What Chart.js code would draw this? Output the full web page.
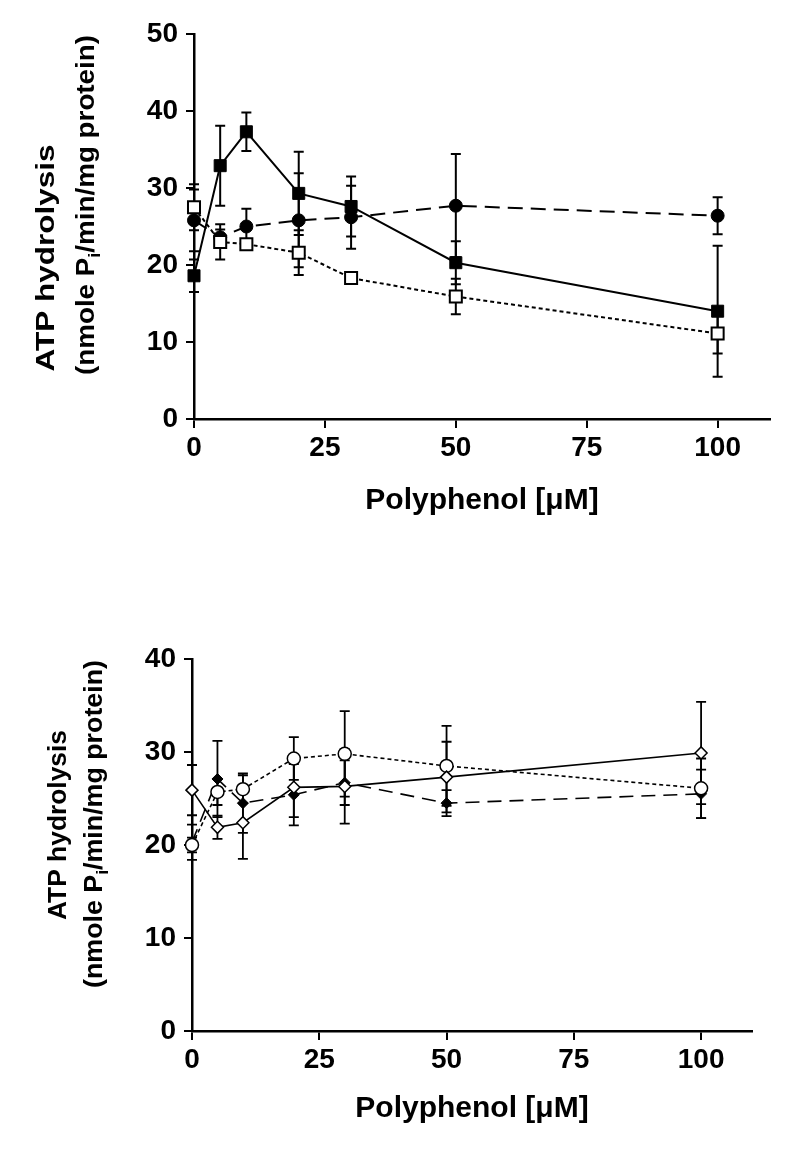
<!DOCTYPE html>
<html lang="en">
<head>
<meta charset="UTF-8">
<title>ATP hydrolysis vs polyphenol</title>
<script src="https://cdn.jsdelivr.net/npm/chart.js@4"></script>
<style>
  body { margin: 0; background: #fff; }
  .panel { position: absolute; left: 0; width: 794px; }
  #top { top: 0; height: 580px; }
  #bottom { top: 580px; height: 577px; }
</style>
</head>
<body>
<div class="panel" id="top"><canvas id="chartTop"></canvas></div>
<div class="panel" id="bottom"><canvas id="chartBottom"></canvas></div>
<script>
// polyphenol concentrations (uM)
const doses = [0, 5, 10, 20, 30, 50, 100];
const xTicks = [0, 25, 50, 75, 100];
const yTicksTop = [0, 10, 20, 30, 40, 50];
const yTicksBottom = [0, 10, 20, 30, 40];

// top panel
const filledSquare    = [18.6, 32.9, 37.3, 29.3, 27.6, 20.3, 14.0];
const filledSquareErr = [2.1, 5.2, 2.5, 5.4, 3.9, 2.8, 8.5];
const filledCircle    = [25.8, 23.6, 25.0, 25.8, 26.2, 27.7, 26.4];
const filledCircleErr = [4.0, 1.0, 2.3, 6.1, 4.1, 6.7, 2.4];
const openSquare      = [27.5, 23.0, 22.7, 21.6, 18.3, 15.9, 11.1];
const openSquareErr   = [3.0, 2.3, 0.5, 2.9, 0.5, 2.3, 2.6];

// bottom panel
const openDiamond      = [25.9, 21.9, 22.4, 26.2, 26.3, 27.3, 29.9];
const openDiamondErr   = [2.7, 1.25, 3.9, 3.2, 4.0, 3.8, 5.5];
const openCircle       = [20.0, 25.7, 26.0, 29.3, 29.8, 28.5, 26.1];
const openCircleErr    = [0.8, 1.4, 1.5, 2.3, 4.6, 4.3, 3.2];
const filledDiamond    = [20.3, 27.1, 24.5, 25.4, 26.7, 24.5, 25.5];
const filledDiamondErr = [1.9, 4.1, 3.2, 3.3, 2.4, 1.4, 2.6];

const sans = '"Liberation Sans", Arial, sans-serif';

function pts(vals) {
  return doses.map((d, i) => ({ x: d, y: vals[i] }));
}

// vertical error bars with caps, drawn under the lines and markers
const errorBars = {
  id: 'errorBars',
  beforeDatasetsDraw(chart) {
    const { ctx, scales: { x, y } } = chart;
    ctx.save();
    ctx.strokeStyle = '#000';
    chart.data.datasets.forEach(ds => {
      if (!ds.errors) return;
      ctx.lineWidth = ds.errWidth || 2;
      ds.data.forEach((p, i) => {
        const e = ds.errors[i];
        const px = x.getPixelForValue(p.x);
        const top = y.getPixelForValue(p.y + e);
        const bot = y.getPixelForValue(p.y - e);
        const cap = 5;
        ctx.beginPath();
        ctx.moveTo(px, top); ctx.lineTo(px, bot);
        ctx.moveTo(px - cap, top); ctx.lineTo(px + cap, top);
        ctx.moveTo(px - cap, bot); ctx.lineTo(px + cap, bot);
        ctx.stroke();
      });
    });
    ctx.restore();
  }
};

// rotated two-line y title with the subscript i
const yTitle = {
  id: 'yTitle',
  afterDraw(chart, args, opts) {
    const ctx = chart.ctx;
    const big = `bold ${opts.size}px ${sans}`;
    const small = `bold ${Math.round(opts.size * 0.65)}px ${sans}`;
    opts.lines.forEach(line => {
      ctx.save();
      ctx.translate(line.x, line.y);
      ctx.rotate(-Math.PI / 2);
      ctx.fillStyle = '#000';
      ctx.textBaseline = 'middle';
      ctx.textAlign = 'left';
      let w = 0;
      const widths = line.parts.map(p => {
        ctx.font = p.sub ? small : big;
        const pw = ctx.measureText(p.t).width;
        w += pw;
        return pw;
      });
      ctx.scale(line.length / w, 1);
      let cx = -w / 2;
      line.parts.forEach((p, i) => {
        ctx.font = p.sub ? small : big;
        ctx.fillText(p.t, cx, p.sub ? opts.size * 0.32 : 0);
        cx += widths[i];
      });
      ctx.restore();
    });
  }
};

function axes(yMax, yTicks, titlePad) {
  const tickFont = { family: sans, size: 28, weight: 'bold' };
  return {
    x: {
      type: 'linear', min: 0, max: 110,
      afterBuildTicks: s => { s.ticks = xTicks.map(v => ({ value: v })); },
      afterFit: s => { s.height = 110; },
      ticks: { font: tickFont, color: '#000', padding: 3, maxRotation: 0 },
      grid: { drawOnChartArea: false, tickLength: 9, color: '#000', lineWidth: 2 },
      border: { color: '#000', width: 2.5 },
      title: {
        display: true, text: 'Polyphenol [\u03bcM]', color: '#000',
        font: { family: sans, size: 30, weight: 'bold' },
        padding: { top: 0, bottom: titlePad }
      }
    },
    y: {
      type: 'linear', min: 0, max: yMax,
      afterBuildTicks: s => { s.ticks = yTicks.map(v => ({ value: v })); },
      afterFit: s => { s.width = 60; },
      ticks: { font: tickFont, color: '#000', padding: 8 },
      grid: { drawOnChartArea: false, tickLength: 8, color: '#000', lineWidth: 2 },
      border: { color: '#000', width: 2.5 }
    }
  };
}

const titleParts2 = [{ t: '(nmole P' }, { t: 'i', sub: true }, { t: '/min/mg protein)' }];

new Chart(document.getElementById('chartTop'), {
  type: 'line',
  data: {
    datasets: [
      {
        data: pts(filledSquare), errors: filledSquareErr, order: 1,
        borderColor: '#000', borderWidth: 2,
        pointStyle: 'rect', pointRadius: 8.5,
        pointBackgroundColor: '#000', pointBorderColor: '#000', pointBorderWidth: 1
      },
      {
        data: pts(filledCircle), errors: filledCircleErr, order: 2,
        borderColor: '#000', borderWidth: 2, borderDash: [15, 8],
        pointStyle: 'circle', pointRadius: 6.5,
        pointBackgroundColor: '#000', pointBorderColor: '#000', pointBorderWidth: 1
      },
      {
        data: pts(openSquare), errors: openSquareErr, order: 0,
        borderColor: '#000', borderWidth: 2, borderDash: [4, 3],
        pointStyle: 'rect', pointRadius: 8.5,
        pointBackgroundColor: '#fff', pointBorderColor: '#000', pointBorderWidth: 2
      }
    ]
  },
  options: {
    responsive: true, maintainAspectRatio: false, animation: false,
    clip: false,
    layout: { padding: { left: 134, right: 24, top: 34, bottom: 51 } },
    scales: axes(50, yTicksTop, 10),
    plugins: {
      legend: { display: false }, tooltip: { enabled: false },
      yTitle: {
        size: 26,
        lines: [
          { parts: [{ t: 'ATP hydrolysis' }], x: 47, y: 258, length: 227 },
          { parts: titleParts2, x: 87, y: 205, length: 340 }
        ]
      }
    }
  },
  plugins: [errorBars, yTitle]
});

new Chart(document.getElementById('chartBottom'), {
  type: 'line',
  data: {
    datasets: [
      {
        data: pts(openDiamond), errors: openDiamondErr, errWidth: 1.8,
        borderColor: '#000', borderWidth: 1.6,
        pointStyle: 'rectRot', pointRadius: 6,
        pointBackgroundColor: '#fff', pointBorderColor: '#000', pointBorderWidth: 1.5
      },
      {
        data: pts(openCircle), errors: openCircleErr, errWidth: 1.8,
        borderColor: '#000', borderWidth: 1.6, borderDash: [4, 3],
        pointStyle: 'circle', pointRadius: 6.5,
        pointBackgroundColor: '#fff', pointBorderColor: '#000', pointBorderWidth: 1.5
      },
      {
        data: pts(filledDiamond), errors: filledDiamondErr, errWidth: 1.8,
        borderColor: '#000', borderWidth: 1.6, borderDash: [14, 8],
        pointStyle: 'rectRot', pointRadius: 5.5,
        pointBackgroundColor: '#000', pointBorderColor: '#000', pointBorderWidth: 1
      }
    ]
  },
  options: {
    responsive: true, maintainAspectRatio: false, animation: false,
    clip: false,
    layout: { padding: { left: 132, right: 42, top: 79, bottom: 16 } },
    scales: axes(40, yTicksBottom, 14),
    plugins: {
      legend: { display: false }, tooltip: { enabled: false },
      yTitle: {
        size: 26,
        lines: [
          { parts: [{ t: 'ATP hydrolysis' }], x: 59, y: 245, length: 190 },
          { parts: titleParts2, x: 95, y: 244, length: 328 }
        ]
      }
    }
  },
  plugins: [errorBars, yTitle]
});
</script>
</body>
</html>
